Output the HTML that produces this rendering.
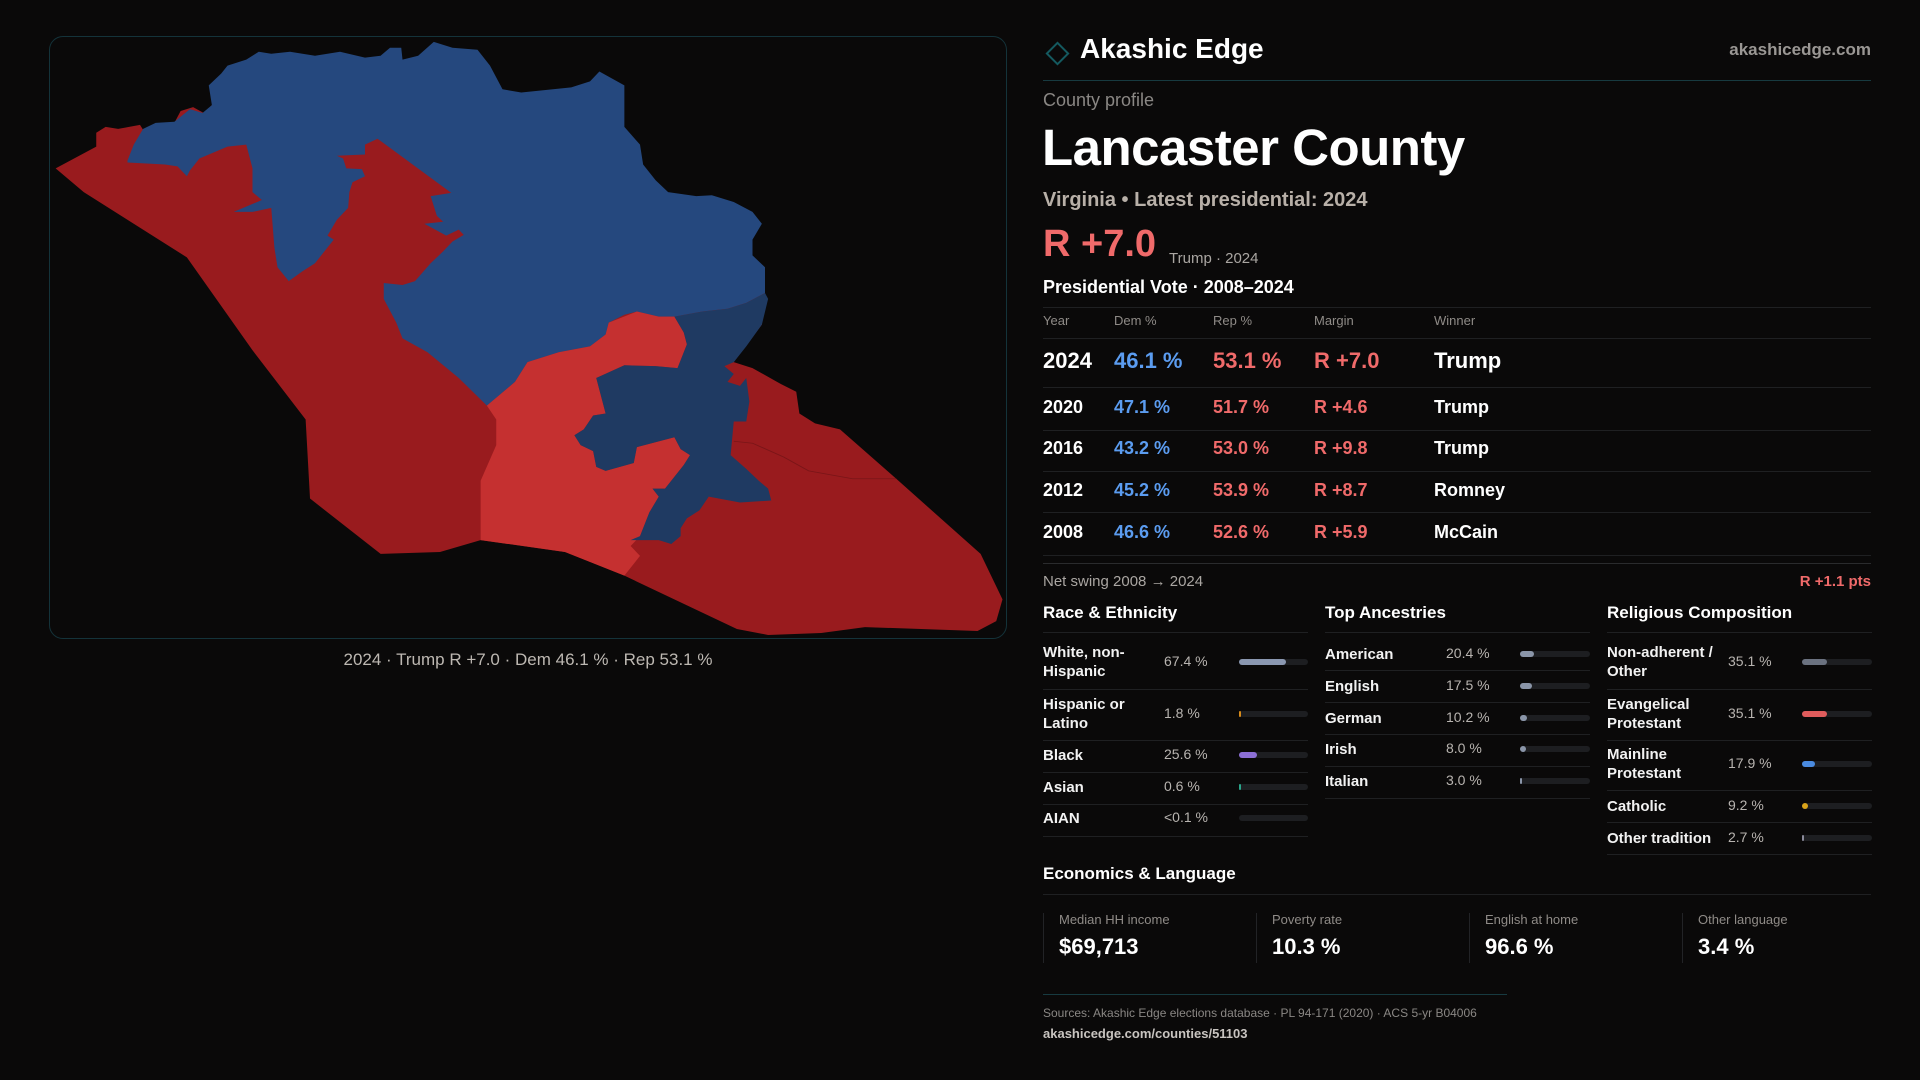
<!DOCTYPE html>
<html><head><meta charset="utf-8">
<style>
*{margin:0;padding:0;box-sizing:border-box}
body{width:1920px;height:1080px;background:#0a0909;font-family:"Liberation Sans",sans-serif;color:#f2f2f2;position:relative;overflow:hidden}
.a{position:absolute;white-space:nowrap}
.hl{position:absolute;height:1px;background:#1f2022}
</style></head><body>
<div class="a" style="left:49px;top:36px;width:958px;height:603px;border:1px solid #14333a;border-radius:14px"></div>
<svg class="a" style="left:40px;top:30px" width="980" height="620" viewBox="0 0 1568 1568" preserveAspectRatio="none">
<polygon fill="#991b1e" points="25,350 90,295 90,260 105,245 125,250 160,240 170,265 185,240 215,235 225,205 245,195 262,210 275,190 300,290 540,270 660,410 680,520 1160,665 1155,745 1110,840 1140,855 1185,895 1210,915 1215,970 1240,995 1280,1010 1370,1135 1505,1325 1540,1440 1530,1495 1500,1520 1320,1510 1250,1525 1165,1530 1115,1515 935,1380 840,1320 705,1290 640,1320 545,1325 432,1185 425,985 340,810 235,575 70,410"/>
<polygon fill="#25487e" points="140,330 150,290 165,250 185,235 215,232 240,200 260,210 275,190 270,140 290,110 300,90 330,75 350,55 370,60 400,55 440,65 480,55 520,70 545,65 560,45 578,45 580,75 605,65 630,30 660,45 700,50 720,90 740,150 770,158 850,145 880,130 895,105 935,140 935,245 960,290 965,340 985,380 1005,410 1050,420 1075,418 1110,435 1140,460 1155,490 1140,530 1140,570 1160,600 1160,665 1130,690 1100,705 1060,712 1015,725 990,725 955,712 935,720 910,740 905,770 880,800 830,815 780,840 760,890 715,950 670,880 620,815 580,780 570,740 550,680 550,640 580,645 600,635 625,590 645,560 660,535 678,518 670,505 650,520 615,490 645,485 635,470 625,420 658,412 540,275 520,290 520,315 475,318 485,325 490,350 515,352 520,370 500,385 495,410 493,450 475,480 460,520 470,530 440,590 420,610 398,635 380,600 375,550 370,450 340,460 310,460 355,430 340,410 340,350 330,290 300,295 255,325 250,335 240,355 235,370 220,345 200,340 140,335"/>
<polygon fill="#c53030" points="715,950 760,890 780,840 830,815 880,800 905,770 910,740 955,712 990,725 1015,725 1030,765 1035,795 1020,855 985,850 935,848 890,880 905,970 885,975 870,1010 855,1025 865,1050 885,1065 890,1105 905,1115 950,1095 955,1055 1015,1030 1025,1060 1040,1075 1030,1100 1000,1160 980,1160 990,1180 975,1220 970,1240 960,1280 945,1305 960,1330 935,1380 840,1320 705,1290 705,1140 730,1050 730,985"/>
<polygon fill="#1f3a62" points="1015,725 1060,712 1100,705 1130,690 1160,665 1165,680 1155,745 1130,800 1110,840 1095,850 1110,870 1100,890 1120,900 1130,880 1135,940 1130,990 1110,990 1105,1075 1130,1110 1150,1140 1165,1160 1170,1190 1120,1195 1070,1180 1055,1215 1035,1235 1025,1260 1025,1280 1010,1300 990,1290 945,1290 960,1280 970,1240 975,1220 990,1180 980,1160 1000,1160 1030,1100 1040,1075 1025,1060 1015,1030 955,1055 950,1095 905,1115 890,1105 885,1065 865,1050 855,1025 870,1010 885,975 905,970 890,880 935,848 985,850 1020,855 1035,795 1030,765"/>
<polyline fill="none" stroke="#7a1518" stroke-width="2" points="1110,1040 1140,1045 1190,1080 1230,1115 1300,1135 1370,1135"/>
</svg>
<div class="a" style="left:0;width:1056px;text-align:center;top:650px;font-size:17px;color:#bdb8b2">2024 · Trump R +7.0 · Dem 46.1 % · Rep 53.1 %</div>

<div class="a" style="left:1049px;top:45px;width:17px;height:17px;border:2px solid #145a60;transform:rotate(45deg)"></div>
<div class="a" style="left:1080px;top:33px;font-size:28px;font-weight:bold;color:#fff">Akashic Edge</div>
<div class="a" style="right:49px;top:40px;font-size:17px;font-weight:bold;color:#9a9794">akashicedge.com</div>
<div class="hl" style="left:1043px;width:828px;top:80px;background:#173a40"></div>
<div class="a" style="left:1043px;top:90px;font-size:18px;color:#8a8784">County profile</div>
<div class="a" style="left:1042px;top:118px;font-size:51px;font-weight:bold;letter-spacing:-0.5px;color:#fff">Lancaster County</div>
<div class="a" style="left:1043px;top:189px;font-size:20px;font-weight:bold;color:#b8b0a8">Virginia • Latest presidential: 2024</div>
<div class="a" style="left:1043px;top:223px;font-size:38px;font-weight:bold;color:#f06a6a">R +7.0</div>
<div class="a" style="left:1169px;top:250px;font-size:15px;color:#aaa6a2">Trump · 2024</div>
<div class="a" style="left:1043px;top:277px;font-size:18px;font-weight:bold;color:#fff">Presidential Vote · 2008–2024</div>
<div id="tbl"></div>

<div class="a" style="left:1043px;top:573px;font-size:15px;color:#aaa6a2">Net swing 2008 → 2024</div>
<div class="a" style="right:49px;top:573px;font-size:15px;font-weight:bold;color:#f06a6a">R +1.1 pts</div>
<div id="demo"></div>

<div class="a" style="left:1043px;top:864px;font-size:17px;font-weight:bold;color:#fff">Economics &amp; Language</div>
<div class="hl" style="left:1043px;width:828px;top:894px"></div>
<div id="econ"></div>

<div class="hl" style="left:1043px;width:464px;top:994px;background:#173a40"></div>
<div class="a" style="left:1043px;top:1006px;font-size:12px;color:#8a8784">Sources: Akashic Edge elections database · PL 94-171 (2020) · ACS 5-yr B04006</div>
<div class="a" style="left:1043px;top:1026px;font-size:13px;font-weight:bold;color:#c8c4c0">akashicedge.com/counties/51103</div>

<script>
const years=[2024,2020,2016,2012,2008];
const demPct=[46.1,47.1,43.2,45.2,46.6];
const repPct=[53.1,51.7,53.0,53.9,52.6];
const margins=["R +7.0","R +4.6","R +9.8","R +8.7","R +5.9"];
const winners=["Trump","Trump","Trump","Romney","McCain"];
const raceLabels=["White, non-|Hispanic","Hispanic or|Latino","Black","Asian","AIAN"];
const raceVals=[67.4,1.8,25.6,0.6,0.05];
const raceText=["67.4 %","1.8 %","25.6 %","0.6 %","<0.1 %"];
const ancLabels=["American","English","German","Irish","Italian"];
const ancVals=[20.4,17.5,10.2,8.0,3.0];
const relLabels=["Non-adherent /|Other","Evangelical|Protestant","Mainline|Protestant","Catholic","Other tradition"];
const relVals=[35.1,35.1,17.9,9.2,2.7];
const econLabels=["Median HH income","Poverty rate","English at home","Other language"];
const econVals=["$69,713","10.3 %","96.6 %","3.4 %"];

function mk(parent,css,txt){const d=document.createElement('div');d.className='a';d.style.cssText=css;if(txt!==undefined)d.innerHTML=txt;parent.appendChild(d);return d;}
function line(parent,top,left,w,col){const d=document.createElement('div');d.className='hl';d.style.cssText='left:'+left+'px;width:'+w+'px;top:'+top+'px'+(col?';background:'+col:'');parent.appendChild(d);return d;}

const T=document.getElementById('tbl');
const colX=[1043,1114,1213,1314,1434];
const heads=["Year","Dem %","Rep %","Margin","Winner"];
let r0=line(T,307,1043,828);


heads.forEach((h,i)=>{const e=mk(T,'left:'+colX[i]+'px;top:313px;font-size:13px;color:#8f8b87',h);

});
let r1=line(T,338,1043,828);


const rowC=[361,408,449,491,533],rowSep=[387,430,471,512,555];
years.forEach((y,i)=>{
 const fs=i===0?22:18, top=rowC[i]-fs*0.6;
 const cells=[[y,'#fff'],[demPct[i].toFixed(1)+' %','#5b9cf0'],[repPct[i].toFixed(1)+' %','#f06a6a'],[margins[i],'#f06a6a'],[winners[i],'#fff']];
 cells.forEach((c,j)=>{const e=mk(T,'left:'+colX[j]+'px;top:'+top+'px;font-size:'+fs+'px;font-weight:bold;color:'+c[1],c[0]);
 
 });
 const s=line(T,rowSep[i],1043,828);
 
 
});
let r2=line(T,563,1043,828,'#2a2b2d');



const D=document.getElementById('demo');
function panel(x,title,labels,vals,texts,colors,centers,seps,valX,barX){
 const t=mk(D,'left:'+x+'px;top:603px;font-size:17px;font-weight:bold;color:#fff',title);
 
 
 const tl=line(D,632,x,265);
 
 
 labels.forEach((lb,i)=>{
  const parts=lb.split('|');const c=centers[i];
  const l=mk(D,'left:'+x+'px;top:'+(c-parts.length*9.5)+'px;font-size:15px;font-weight:bold;line-height:19px;color:#f2f2f2',parts.join('<br>'));
  
  
  const v=mk(D,'left:'+valX+'px;top:'+(c-9)+'px;font-size:14px;color:#b8b4b0',texts[i]);
  
  
  const tr=mk(D,'left:'+barX+'px;top:'+(c-3)+'px;width:'+(x+265-barX)+'px;height:6px;border-radius:3px;background:#1d1e21');
  
  
  const w=Math.max(vals[i]/100*(x+265-barX),vals[i]>0.1?2:0);
  const f=mk(D,'left:'+barX+'px;top:'+(c-3)+'px;width:'+w+'px;height:6px;border-radius:3px;background:'+colors[i]);
  
  
  const s=line(D,seps[i],x,265);
  
  
 });
}
panel(1043,'Race &amp; Ethnicity',raceLabels,raceVals,raceText,['#8a97b0','#d68a1a','#8c6fd6','#2aa58a','#555'],[662,714,755,787,818],[689,740,772,804,836],1164,1239);
panel(1325,'Top Ancestries',ancLabels,ancVals,ancVals.map(v=>v.toFixed(1)+' %'),['#8a95a8','#8a95a8','#8a95a8','#8a95a8','#8a95a8'],[654,686,718,749,781],[670,702,734,766,798],1446,1520);
panel(1607,'Religious Composition',relLabels,relVals,relVals.map(v=>v.toFixed(1)+' %'),['#6b7280','#e05c5c','#4a8be0','#d9a31a','#8a8a9a'],[662,714,764,806,838],[689,740,790,822,854],1728,1802);

const E=document.getElementById('econ');
econLabels.forEach((lb,i)=>{
 const x=1043+i*213;
 const b=mk(E,'left:'+x+'px;top:913px;width:1px;height:50px;background:#222326');
 
 
 const l=mk(E,'left:'+(x+16)+'px;top:912px;font-size:13px;color:#8f8b87',lb);
 
 
 const v=mk(E,'left:'+(x+16)+'px;top:934px;font-size:22px;font-weight:bold;color:#fff',econVals[i]);
 
 
});
</script>
</body></html>
